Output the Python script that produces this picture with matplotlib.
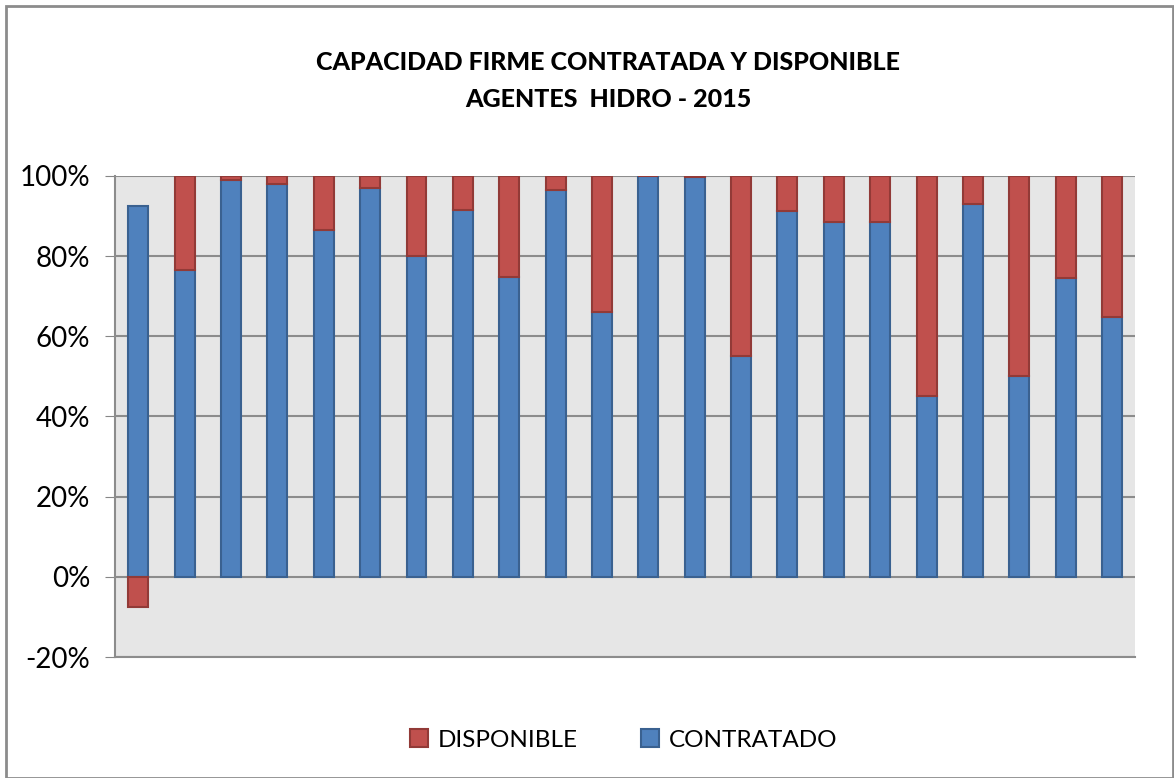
import numpy as np
import matplotlib.pyplot as plt
from matplotlib.ticker import PercentFormatter

plt.rcParams['font.family'] = ['Lato', 'DejaVu Sans']
plt.rcParams['axes.unicode_minus'] = False

# valores (%)
agentes = list(range(1, 23))
contratado = [92.5, 76.5, 99, 98, 86.6, 97, 80, 91.5, 74.7, 96.5, 66,
              100, 99.8, 55, 91.3, 88.5, 88.5, 45, 93, 50, 74.5, 64.8]
disponible = [-7.5, 23.5, 1, 2, 13.4, 3, 20, 8.5, 25.3, 3.5, 34,
              0, 0.2, 45, 8.7, 11.5, 11.5, 55, 7, 50, 25.5, 35.2]

azul, azul_borde = '#4F81BD', '#3A6190'
rojo, rojo_borde = '#C0504D', '#923A37'

fig = plt.figure(figsize=(11.74, 7.78), dpi=100)
ax = fig.add_axes([0.098, 0.1555, 0.869, 0.6185])

x = np.arange(len(agentes))
# en barras apiladas los negativos arrancan en cero
base = [c if d >= 0 else 0 for c, d in zip(contratado, disponible)]

ax.bar(x, contratado, width=0.43, color=azul, edgecolor=azul_borde,
       linewidth=1.5, label='CONTRATADO', zorder=3)
ax.bar(x, disponible, bottom=base, width=0.43, color=rojo,
       edgecolor=rojo_borde, linewidth=1.5, label='DISPONIBLE', zorder=3)

ax.set_facecolor('#E6E6E6')
ax.set_ylim(-20, 100)
ax.set_xlim(-0.5, len(agentes) - 0.5)
ax.set_yticks(np.arange(-20, 101, 20))
ax.yaxis.set_major_formatter(PercentFormatter(decimals=0))
ax.tick_params(axis='y', labelsize=20, length=7, color='#868686', pad=11)
ax.set_xticks([])
ax.grid(axis='y', color='#8C8C8C', linewidth=1.5, zorder=1)
for s in ['top', 'right']:
    ax.spines[s].set_visible(False)
ax.spines['left'].set_color('#8C8C8C')
ax.spines['left'].set_linewidth(1.5)
ax.spines['bottom'].set_color('#8C8C8C')
ax.spines['bottom'].set_linewidth(1.5)

fig.text(0.518, 0.896, 'CAPACIDAD FIRME CONTRATADA Y DISPONIBLE\nAGENTES  HIDRO - 2015',
         ha='center', va='center', fontsize=18, fontweight='black', linespacing=1.7)

h, l = ax.get_legend_handles_labels()
fig.legend(h[::-1], l[::-1], loc='center', bbox_to_anchor=(0.531, 0.049), ncol=2,
           frameon=False, fontsize=17.5, handlelength=0.75, handleheight=0.75,
           columnspacing=2.6, handletextpad=0.4)

# marco exterior
fig.patches.append(plt.Rectangle((0.005, 0.0), 0.994, 0.992, transform=fig.transFigure,
                                 fill=False, edgecolor='#8C8C8C', linewidth=2))

fig.savefig('out.png', dpi=100)
